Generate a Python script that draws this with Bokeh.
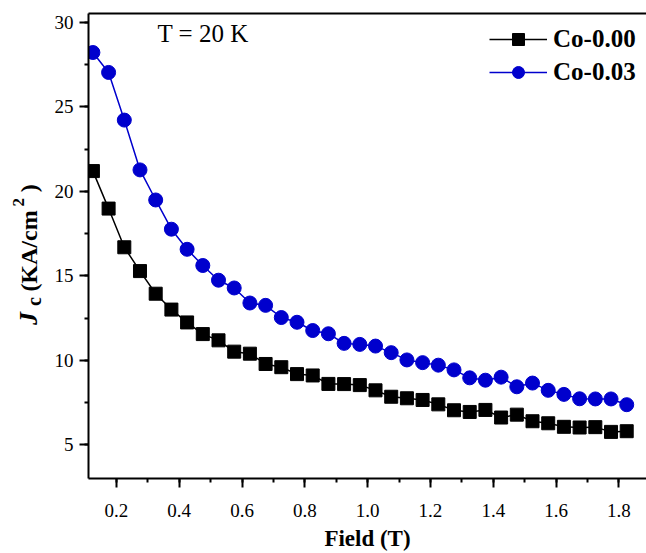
import math
from bokeh.plotting import figure
from bokeh.layouts import row
from bokeh.models import (Range1d, SingleIntervalTicker, LinearAxis, Label, Legend,
                          LegendItem, PrintfTickFormatter)
from bokeh.embed import file_html
from bokeh.resources import INLINE

# ---- data ----
field = [0.125, 0.175, 0.225, 0.275, 0.325, 0.375, 0.425, 0.475, 0.525, 0.575,
         0.625, 0.675, 0.725, 0.775, 0.825, 0.875, 0.925, 0.975, 1.025, 1.075,
         1.125, 1.175, 1.225, 1.275, 1.325, 1.375, 1.425, 1.475, 1.525, 1.575,
         1.625, 1.675, 1.725, 1.775, 1.825]
co_000 = [21.2, 18.98, 16.69, 15.28, 13.94, 13.0, 12.24, 11.55, 11.18, 10.51,
          10.39, 9.78, 9.59, 9.18, 9.1, 8.6, 8.59, 8.53, 8.22, 7.84,
          7.75, 7.65, 7.39, 7.04, 6.94, 7.06, 6.61, 6.78, 6.39, 6.27,
          6.06, 6.02, 6.04, 5.76, 5.8]
co_003 = [28.22, 27.04, 24.22, 21.27, 19.49, 17.76, 16.57, 15.61, 14.74, 14.28,
          13.39, 13.25, 12.53, 12.25, 11.76, 11.57, 11.0, 10.94, 10.84, 10.45,
          10.02, 9.86, 9.71, 9.43, 8.96, 8.82, 9.0, 8.43, 8.65, 8.22,
          7.98, 7.72, 7.71, 7.71, 7.37]
series_names = ["Co-0.00", "Co-0.03"]
x_ticks_interval = 0.2
y_ticks_interval = 5

SERIF = "Liberation Serif"
BLUE = "#0000CD"
LEFT_W = 50
H = 553
TOP_B = 13
BOT_B = 72

p = figure(width=646 - LEFT_W, height=H, output_backend="svg", toolbar_location=None,
           x_range=Range1d(0.111, 1.888), y_range=Range1d(3, 30.53),
           min_border_left=88 - LEFT_W, min_border_right=0, min_border_top=TOP_B,
           min_border_bottom=BOT_B)
p.outline_line_color = None
p.grid.visible = False
p.background_fill_color = "white"
p.border_fill_color = "white"

for ax in (p.xaxis[0], p.yaxis[0]):
    ax.axis_line_width = 2
    ax.axis_line_color = "black"
    ax.major_tick_line_width = 2
    ax.minor_tick_line_width = 2
    ax.major_tick_in = 0
    ax.minor_tick_in = 0
    ax.major_tick_out = 9
    ax.minor_tick_out = 4
    ax.major_label_text_font = SERIF
    ax.major_label_text_font_size = "19px"
    ax.major_label_text_color = "black"

p.xaxis[0].ticker = SingleIntervalTicker(interval=x_ticks_interval, num_minor_ticks=2)
p.xaxis[0].formatter = PrintfTickFormatter(format="%.1f")
p.xaxis[0].major_label_standoff = 16
p.xaxis[0].axis_label = "Field (T)"
p.xaxis[0].axis_label_text_font = SERIF
p.xaxis[0].axis_label_text_font_style = "bold"
p.xaxis[0].axis_label_text_font_size = "23px"
p.xaxis[0].axis_label_text_color = "black"
p.xaxis[0].axis_label_standoff = 6

p.yaxis[0].ticker = SingleIntervalTicker(interval=y_ticks_interval, num_minor_ticks=2)
p.yaxis[0].major_label_standoff = 6

# top border line
top = LinearAxis(ticker=SingleIntervalTicker(interval=100), major_tick_out=0, major_tick_in=0,
                 minor_tick_out=0, minor_tick_in=0, major_label_text_font_size="0px",
                 axis_line_width=2, axis_line_color="black")
p.add_layout(top, "above")

l0 = p.line(field, co_000, line_color="black", line_width=1.5)
s0 = p.scatter(field, co_000, marker="square", size=13, fill_color="black", line_color="black")
l1 = p.line(field, co_003, line_color=BLUE, line_width=1.5)
s1 = p.scatter(field, co_003, marker="circle", size=14, fill_color=BLUE, line_color=BLUE)

legend = Legend(items=[LegendItem(label=series_names[0], renderers=[l0, s0]),
                       LegendItem(label=series_names[1], renderers=[l1, s1])],
                location=(401, 391), padding=0, spacing=3, glyph_width=58, glyph_height=30,
                label_standoff=6, border_line_color=None, background_fill_alpha=0,
                label_text_font=SERIF, label_text_font_style="bold",
                label_text_font_size="25px", label_text_color="black", margin=0)
p.add_layout(legend)

p.add_layout(Label(x=0.3306, y=29.35, text="T = 20 K", text_font=SERIF,
                   text_font_size="25px", text_color="black", text_align="left",
                   text_baseline="middle"))

# ---- left strip carrying the y-axis title (rich text) ----
# its frame is aligned with the main frame by the row layout, so map the
# frame to canvas pixels measured from the top (y_data = H - y_pixel)
q = figure(width=LEFT_W, height=H, output_backend="svg", toolbar_location=None,
           x_range=Range1d(0, LEFT_W), y_range=Range1d(BOT_B, H - TOP_B),
           x_axis_type=None, y_axis_type=None,
           min_border_left=0, min_border_right=0, min_border_top=TOP_B,
           min_border_bottom=BOT_B)
q.outline_line_color = None
q.grid.visible = False
q.background_fill_color = "white"
q.border_fill_color = "white"

# pieces: text, style, size, centre x (px from left), centre y (px from top)
pieces = [
    ("J", "bold italic", "26px", 28, 320),
    ("c", "bold", "20px", 33.5, 303),
    ("(KA/cm", "bold", "24px", 28, 252),
    ("2", "bold", "17px", 17.5, 203),
    (")", "bold", "24px", 28, 189),
]
for txt, style, size, cx, cy in pieces:
    q.add_layout(Label(x=cx, y=H - cy, text=txt, angle=math.pi / 2,
                       text_font=SERIF, text_font_style=style, text_font_size=size,
                       text_color="black", text_align="center", text_baseline="middle"))

layout = row(q, p, spacing=0)
open("out.html", "w").write(file_html(layout, INLINE))
